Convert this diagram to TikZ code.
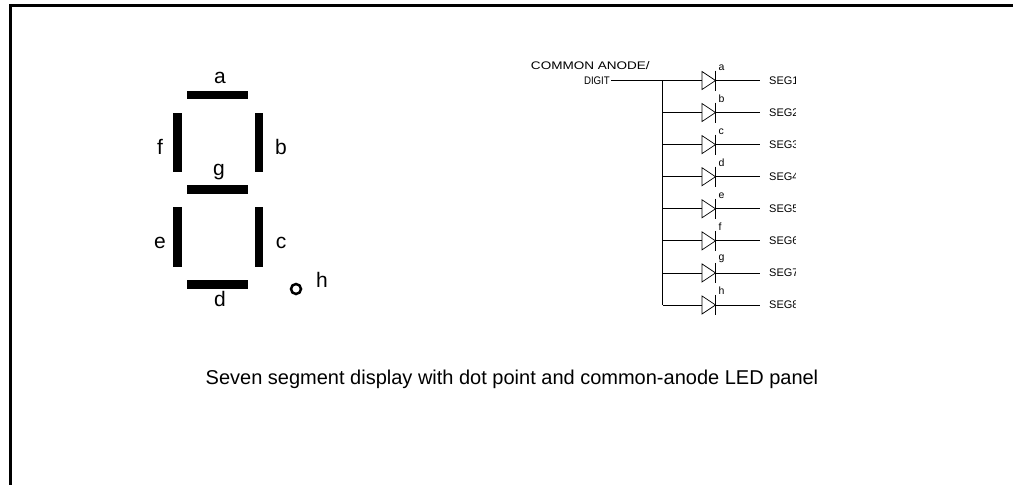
\documentclass[tikz,border=0pt]{standalone}
\usepackage{fontspec}
\setmainfont{Liberation Sans}
\usepackage{tikz}
\usetikzlibrary{positioning}
\usetikzlibrary{calc}

\tikzset{
  seg/.style={fill=black, draw=none},
  seglabel/.style={font=\fontsize{21}{23}\selectfont, inner sep=0pt},
  wire/.style={line width=0.8pt},
  diodelabel/.style={font=\fontsize{10.5}{11}\selectfont, inner sep=0pt, anchor=south west},
  seglead/.style={font=\fontsize{11}{12}\selectfont, inner sep=0pt, anchor=west}
}

% one branch of the common anode panel: #1 index, #2 row y, #3 segment letter
\newcommand{\diodebranch}[3]{
  \coordinate (bus#1) at (662.7, #2);
  \coordinate (an#1) at (702, #2);
  \coordinate (k#1) at (715.5, #2);
  \coordinate (out#1) at (760, #2);
  \draw[wire] (bus#1) -- (an#1);
  \draw[line width=0.7pt] (an#1) -- ++(0,-9) -- (k#1) -- (702,#2+9) -- cycle;
  \draw[line width=1pt] ($(k#1)+(0,-10)$) -- ($(k#1)+(0,10)$);
  \draw[wire] (k#1) -- (out#1);
  \node[diodelabel] (dl#1) at ($(k#1)+(3,-10)$) {#3};
  \begin{scope}
    \clip (765,#2-10) rectangle (795.5,#2+10);
    \node[seglead] (seg#1) at (769,#2) {SEG#1};
  \end{scope}
}

\begin{document}
\begin{tikzpicture}[x=1pt, y=-1pt]
\useasboundingbox (0,0) rectangle (1013,485);

% frame
\draw[line width=2.6pt] (10.7,485) |- (1013,5.5);

% seven segment digit
\fill[seg] (187,90.8) rectangle (248,98.8);
\fill[seg] (173,113) rectangle (182.3,172);
\fill[seg] (255,113) rectangle (263,172);
\fill[seg] (187,185) rectangle (248,194);
\fill[seg] (173,207) rectangle (182.3,267);
\fill[seg] (255,207) rectangle (263,267);
\fill[seg] (187,280) rectangle (248,289);
\draw[line width=2.5pt] (296,289) circle (5);

\node[seglabel] (la) at (220,78) {a};
\node[seglabel] (lb) at (281,147) {b};
\node[seglabel] (lc) at (281,243) {c};
\node[seglabel] (ld) at (220,299) {d};
\node[seglabel] (le) at (160,243) {e};
\node[seglabel] (lf) at (160,147) {f};
\node[seglabel] (lg) at (219,172) {g};
\node[seglabel] (lh) at (322,280) {h};

% common anode panel
\node[font=\fontsize{11}{12}\selectfont, inner sep=0pt, anchor=east,
  xscale=1.23, transform shape] (common) at (650,66) {COMMON ANODE/};
\node[font=\fontsize{11}{12}\selectfont, inner sep=0pt, anchor=east,
  xscale=0.88, transform shape] (digit) at (610,80.5) {DIGIT};

\foreach \i/\l in {1/a,2/b,3/c,4/d,5/e,6/f,7/g,8/h} {
  \pgfmathsetmacro\rowy{80.5+32.07*(\i-1)}
  \diodebranch{\i}{\rowy}{\l}
}
\draw[wire] (digit.east) ++(1,0) -- (bus1);
\draw[wire] (bus1) -- (bus8);

% caption
\node[font=\fontsize{20}{22}\selectfont, inner sep=0pt]
  (caption) at (512,379) {Seven segment display with dot point and common-anode LED panel};
\end{tikzpicture}
\end{document}
